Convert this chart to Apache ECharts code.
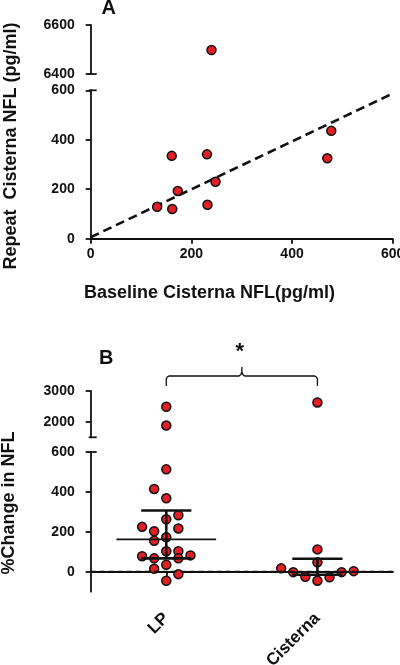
<!DOCTYPE html>
<html><head><meta charset="utf-8">
<script src="https://cdn.jsdelivr.net/npm/echarts@6/dist/echarts.min.js"></script>
<style>html,body{margin:0;padding:0;background:#fff}#c{width:400px;height:665px}</style>
</head><body><div id="c"></div>
<script>
// ---------- Panel A data ----------
const baselineNFL = [240, 161, 231, 478, 470, 248, 173, 132, 162, 232];
const repeatNFL   = [6498, 335, 341, 436, 325, 230, 193, 129, 120, 137];
const fitLineX = [0, 600];
const fitLineY = [6, 587];
const aXTicks = [0, 200, 400, 600];
const aYLowerTicks = [0, 200, 400, 600];
const aYUpperTicks = [6400, 6600];

// ---------- Panel B data ----------
const groups = ['LP', 'Cisterna'];
const lpChange  = [2490, 1880, 513, 415, 368, 283, 263, 225, 217, 203, 173, 155, 103, 103, 82, 78, 67, 67, 35, 15, -12, -45];
const lpJitter  = [0, 0, 0, -0.08, 0, 0.08, 0, -0.16, 0.08, -0.08, 0, -0.08, 0, 0.08, 0.16, -0.16, -0.08, 0.08, 0, -0.08, 0.08, 0];
const cisChange = [2630, 112, 47, 17, -2, -25, -45, -28, -2, 3];
const cisJitter = [0, 0, 0, -0.24, -0.16, -0.08, 0, 0.08, 0.16, 0.24];
const groupMid  = [162, -2];
const groupLow  = [67, -15];
const groupHigh = [307, 65];
const bYLowerTicks = [0, 200, 400, 600];
const bYUpperTicks = [2000, 3000];

// ---------- ranges ----------
const aLower = [0, 600], aUpper = [6400, 6600];
const bLower = [-100, 600], bUpper = [1500, 3000];

const FONT = 'Liberation Sans';
const INK = '#111111';
const RED = '#e41e25';

const chart = echarts.init(document.getElementById('c'), null, {renderer: 'canvas'});

const axisLine = {show: true, lineStyle: {color: INK, width: 1.8}};
const tickOut = {show: true, length: 5, lineStyle: {color: INK, width: 1.8}};
const lblStyle = {color: INK, fontFamily: FONT, fontWeight: 'bold', fontSize: 14, formatter: (v) => String(v)};

const aPts = baselineNFL.map((x, i) => [x, repeatNFL[i]]);
const lpPts = lpChange.map((v, i) => [1 + lpJitter[i], v]);
const cisPts = cisChange.map((v, i) => [2 + cisJitter[i], v]);
const bPts = lpPts.concat(cisPts);
const inRange = (r) => (p) => p[1] >= r[0] && p[1] <= r[1];

const dot = {color: RED, borderColor: INK, borderWidth: 1.5, opacity: 1};
const SYM = 9;
const G = {outerBoundsMode: 'none', containLabel: false};

chart.setOption({
  animation: false,
  backgroundColor: '#fff',
  grid: [
    Object.assign({left: 90.7, right: 7.3, top: 25, height: 49}, G),
    Object.assign({left: 90.7, right: 7.3, top: 90.3, height: 148.4}, G),
    Object.assign({left: 90.7, right: 7, top: 391, height: 46.3}, G),
    Object.assign({left: 90.7, right: 7, top: 452, height: 139.7}, G)
  ],
  xAxis: [
    {gridIndex: 0, type: 'value', min: aLower[0], max: aLower[1], show: false},
    {gridIndex: 1, type: 'value', min: aLower[0], max: aLower[1], interval: 200,
      axisLine, axisTick: tickOut, splitLine: {show: false},
      axisLabel: Object.assign({}, lblStyle, {margin: 8, customValues: aXTicks})},
    {gridIndex: 2, type: 'value', min: 0.5, max: 2.5, show: false},
    {gridIndex: 3, type: 'value', min: 0.5, max: 2.5,
      axisLine, splitLine: {show: false},
      axisTick: Object.assign({customValues: groups.map((g, i) => i + 1)}, tickOut),
      axisLabel: Object.assign({}, lblStyle, {margin: 24, rotate: 45, fontSize: 17,
        customValues: groups.map((g, i) => i + 1),
        formatter: (v) => groups[Math.round(v) - 1] || ''})}
  ],
  yAxis: [
    {gridIndex: 0, type: 'value', min: aUpper[0], max: aUpper[1], interval: 200,
      axisLine, axisTick: tickOut, splitLine: {show: false},
      axisLabel: Object.assign({}, lblStyle, {margin: 16, customValues: aYUpperTicks})},
    {gridIndex: 1, type: 'value', min: aLower[0], max: aLower[1], interval: 200,
      axisLine, axisTick: tickOut, splitLine: {show: false},
      axisLabel: Object.assign({}, lblStyle, {margin: 16, customValues: aYLowerTicks})},
    {gridIndex: 2, type: 'value', min: bUpper[0], max: bUpper[1],
      axisLine, splitLine: {show: false},
      axisTick: Object.assign({customValues: bYUpperTicks}, tickOut),
      axisLabel: Object.assign({}, lblStyle, {margin: 16, customValues: bYUpperTicks})},
    {gridIndex: 3, type: 'value', min: bLower[0], max: bLower[1],
      axisLine, splitLine: {show: false},
      axisTick: Object.assign({customValues: bYLowerTicks}, tickOut),
      axisLabel: Object.assign({}, lblStyle, {margin: 16, customValues: bYLowerTicks})}
  ],
  series: [
    {type: 'scatter', xAxisIndex: 0, yAxisIndex: 0, symbolSize: SYM, itemStyle: dot, z: 3,
      data: aPts.filter(inRange(aUpper))},
    {type: 'line', xAxisIndex: 1, yAxisIndex: 1, symbol: 'none', z: 2,
      lineStyle: {color: INK, width: 2.6, type: [9, 5]},
      data: fitLineX.map((x, i) => [x, fitLineY[i]])},
    {type: 'scatter', xAxisIndex: 1, yAxisIndex: 1, symbolSize: SYM, itemStyle: dot, z: 3,
      data: aPts.filter(inRange(aLower))},
    {type: 'scatter', xAxisIndex: 2, yAxisIndex: 2, symbolSize: SYM, itemStyle: dot, z: 3,
      data: bPts.filter(inRange(bUpper))},
    {type: 'scatter', xAxisIndex: 3, yAxisIndex: 3, symbolSize: SYM, itemStyle: dot, z: 3,
      data: bPts.filter(inRange(bLower)),
      markLine: {silent: true, symbol: ['none', 'none'], label: {show: false},
        lineStyle: {color: INK, width: 1.3, type: [5, 4]}, data: [{yAxis: 0}]}},
    {type: 'custom', xAxisIndex: 3, yAxisIndex: 3, z: 5,
      encode: {x: 0, y: [1, 2, 3]},
      data: groups.map((g, i) => [i + 1, groupMid[i], groupLow[i], groupHigh[i]]),
      renderItem: (params, api) => {
        const x = api.value(0), mid = api.value(1), lo = api.value(2), hi = api.value(3);
        const seg = (a, b, w) => ({type: 'line', shape: {x1: a[0], y1: a[1], x2: b[0], y2: b[1]},
          style: {stroke: INK, lineWidth: w}});
        return {type: 'group', children: [
          seg(api.coord([x - 0.33, mid]), api.coord([x + 0.33, mid]), 1.6),
          seg(api.coord([x - 0.166, hi]), api.coord([x + 0.166, hi]), 2.6),
          seg(api.coord([x - 0.166, lo]), api.coord([x + 0.166, lo]), 2.6),
          seg(api.coord([x, lo]), api.coord([x, hi]), 2.6)
        ]};
      }}
  ]
});

// ---------- annotations placed through the axes ----------
const px = (xi, yi, v) => chart.convertToPixel({xAxisIndex: xi, yAxisIndex: yi}, v);
const cap = (xi, yi, xv, yv) => {
  const p = px(xi, yi, [xv, yv]);
  return {type: 'line', shape: {x1: p[0] - 2, y1: p[1], x2: p[0] + 6, y2: p[1]},
    style: {stroke: INK, lineWidth: 1.8}, z: 10};
};
const txt = (s, x, y, size, rot) => ({type: 'text', x, y, rotation: rot || 0, z: 10,
  style: {text: s, fill: INK, font: 'bold ' + size + 'px "' + FONT + '"', textAlign: 'center', textVerticalAlign: 'middle'}});

const pL = px(2, 2, [1, bUpper[1]]), pR = px(2, 2, [2, bUpper[1]]);
const x1 = pL[0], x2 = pR[0], cx = (x1 + x2) / 2;
const yT = 376, yE = 386, yC = 367;
const bracePts = [[x1, yE], [x1, yT + 3], [x1 + 1, yT + 1], [x1 + 3, yT],
  [cx - 3, yT], [cx - 1, yT - 1.5], [cx, yT - 4], [cx, yC], [cx, yT - 4], [cx + 1, yT - 1.5], [cx + 3, yT],
  [x2 - 3, yT], [x2 - 1, yT + 1], [x2, yT + 3], [x2, yE]];

chart.setOption({
  graphic: [
    txt('A', 108.8, 8.5, 20),
    txt('B', 106.3, 358.5, 20),
    txt('Repeat  Cisterna NFL (pg/ml)', 11, 146, 18, Math.PI / 2),
    txt('Baseline Cisterna NFL(pg/ml)', 209.5, 293, 18),
    txt('%Change in NFL', 9, 503, 18, Math.PI / 2),
    txt('*', cx - 2, 352, 22),
    {type: 'polyline', z: 10, shape: {points: bracePts}, style: {stroke: INK, lineWidth: 1.3, fill: null}},
    cap(0, 0, aLower[0], aUpper[0]),
    cap(1, 1, aLower[0], aLower[1]),
    cap(2, 2, 0.5, bUpper[0]),
    cap(3, 3, 0.5, bLower[1])
  ]
});
</script>
</body></html>
